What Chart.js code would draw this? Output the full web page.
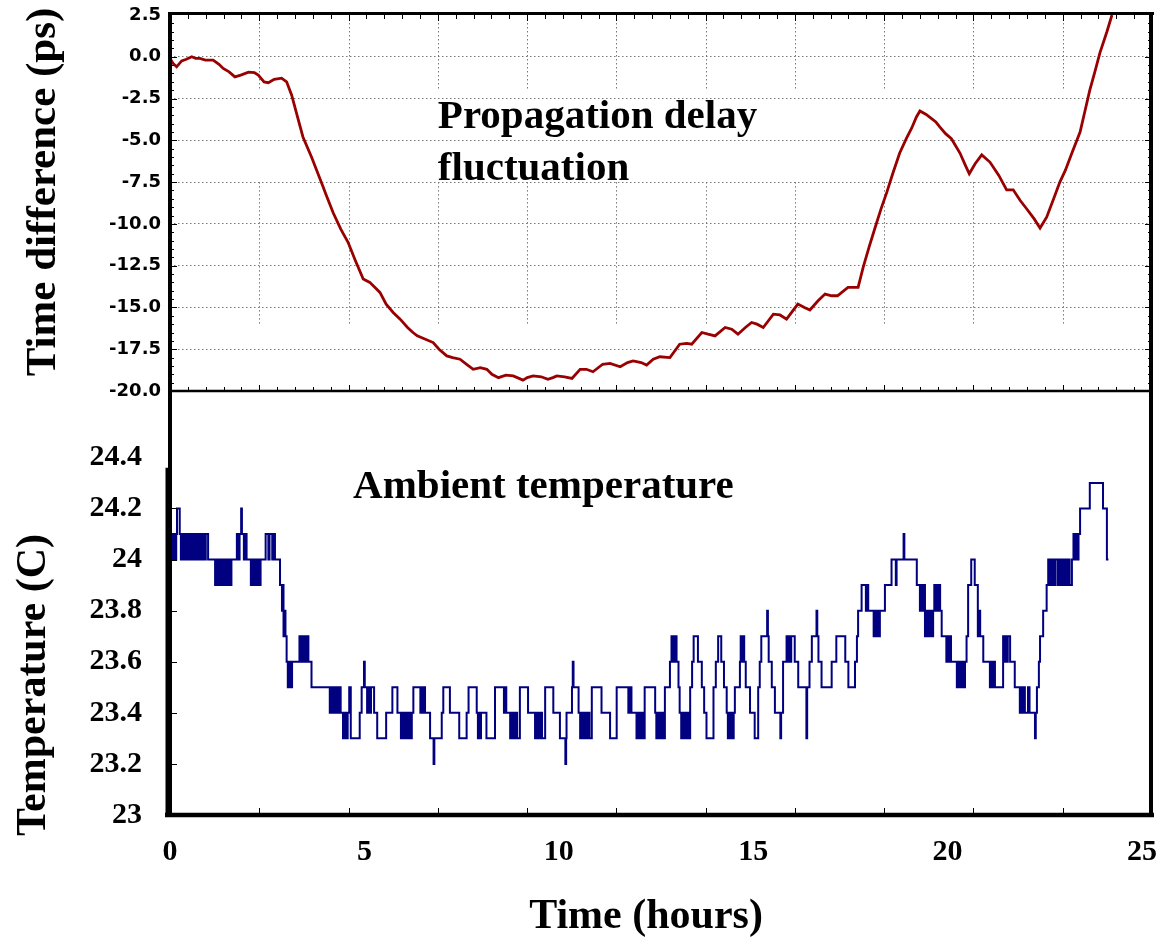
<!DOCTYPE html>
<html>
<head>
<meta charset="utf-8">
<title>Propagation delay fluctuation and ambient temperature</title>
<script src="https://cdn.jsdelivr.net/npm/chart.js@4.4.1/dist/chart.umd.min.js"></script>
<style>
  html, body { margin: 0; padding: 0; background: #fff; }
</style>
</head>
<body>
<canvas id="plot" width="1162" height="947"></canvas>
<script>
// shared time axis (hours); the frame runs a little past the 25 h label
const xTickLabels = [0, 5, 10, 15, 20, 25]
const xFrameEnd = 25.26
const xGridDivisions = 11   // the upper plot keeps its own 11-cell grid

// upper panel: propagation delay, ps
const delayTicks = [2.5, 0, -2.5, -5, -7.5, -10, -12.5, -15, -17.5, -20]
const delayHours = [
    0.00, 0.08, 0.17, 0.30, 0.42, 0.56, 0.66, 0.77, 0.91, 1.11,
    1.26, 1.37, 1.52, 1.67, 1.82, 2.02, 2.17, 2.27, 2.42, 2.53,
    2.68, 2.87, 3.00, 3.13, 3.28, 3.42, 3.64, 3.90, 4.04, 4.20,
    4.39, 4.58, 4.77, 4.97, 5.14, 5.40, 5.56, 5.74, 5.92, 6.11,
    6.25, 6.36, 6.57, 6.77, 6.92, 7.12, 7.27, 7.46, 7.63, 7.80,
    7.98, 8.15, 8.28, 8.45, 8.64, 8.83, 9.08, 9.19, 9.34, 9.55,
    9.72, 9.85, 9.95, 10.15, 10.34, 10.55, 10.71, 10.88, 11.13, 11.32,
    11.58, 11.77, 11.91, 12.12, 12.26, 12.43, 12.60, 12.86, 13.11, 13.29,
    13.42, 13.68, 13.84, 14.02, 14.28, 14.45, 14.61, 14.80, 14.96, 15.10,
    15.26, 15.52, 15.69, 15.86, 16.15, 16.32, 16.46, 16.67, 16.85, 17.02,
    17.17, 17.44, 17.70, 17.83, 17.98, 18.14, 18.29, 18.44, 18.59, 18.77,
    18.94, 19.08, 19.20, 19.29, 19.45, 19.59, 19.70, 19.80, 19.95, 20.10,
    20.32, 20.46, 20.56, 20.71, 20.88, 21.09, 21.32, 21.52, 21.69, 21.87,
    22.02, 22.23, 22.38, 22.55, 22.73, 22.89, 23.03, 23.20, 23.41, 23.54,
    23.66, 23.79, 23.92, 24.10, 24.23
]
const delayPs = [
    -0.1, -0.4, -0.6, -0.25, -0.15, 0.0, -0.1, -0.1, -0.2, -0.2,
    -0.45, -0.7, -0.9, -1.2, -1.1, -0.92, -0.95, -1.1, -1.5, -1.55,
    -1.35, -1.28, -1.5, -2.3, -3.6, -4.8, -6.0, -7.55, -8.4, -9.35,
    -10.3, -11.1, -12.2, -13.3, -13.5, -14.1, -14.8, -15.3, -15.7, -16.2,
    -16.5, -16.7, -16.9, -17.1, -17.5, -17.9, -18.0, -18.1, -18.4, -18.7,
    -18.6, -18.7, -19.0, -19.2, -19.05, -19.1, -19.35, -19.2, -19.1, -19.15,
    -19.3, -19.2, -19.1, -19.15, -19.25, -18.7, -18.7, -18.85, -18.4, -18.35,
    -18.55, -18.3, -18.2, -18.3, -18.45, -18.1, -17.95, -18.0, -17.2, -17.15,
    -17.2, -16.5, -16.6, -16.7, -16.2, -16.3, -16.6, -16.2, -15.9, -16.0,
    -16.2, -15.4, -15.45, -15.7, -14.8, -15.0, -15.15, -14.6, -14.2, -14.3,
    -14.3, -13.8, -13.8, -12.6, -11.4, -10.2, -9.1, -8.1, -7.0, -5.76,
    -4.9, -4.26, -3.6, -3.24, -3.45, -3.7, -3.9, -4.2, -4.6, -4.9,
    -5.76, -6.5, -7.0, -6.4, -5.87, -6.3, -7.1, -7.96, -7.96, -8.6,
    -9.05, -9.7, -10.25, -9.6, -8.5, -7.5, -6.8, -5.76, -4.5, -3.2,
    -2.0, -0.9, 0.23, 1.5, 2.5
]

// lower panel: ambient temperature, C (each reading holds until the next one)
const tempTicks = [23, 23.2, 23.4, 23.6, 23.8, 24, 24.2, 24.4]
const tempHours = [
    0.00, 0.04, 0.07, 0.10, 0.13, 0.16, 0.18, 0.25, 0.28, 0.31, 0.34, 0.37, 0.40, 0.43, 0.46, 0.50,
    0.53, 0.56, 0.59, 0.62, 0.65, 0.68, 0.71, 0.74, 0.77, 0.80, 0.83, 0.86, 0.89, 0.92, 0.98,
    1.16, 1.20, 1.24, 1.28, 1.31, 1.35, 1.38, 1.42, 1.45, 1.50, 1.53, 1.58,
    1.72, 1.76, 1.79, 1.83, 1.85, 1.90, 1.93, 1.97,
    2.08, 2.12, 2.15, 2.19, 2.22, 2.26, 2.29, 2.33,
    2.46, 2.53, 2.56, 2.63, 2.66, 2.70,
    2.83, 2.88, 2.90, 2.92, 2.95, 2.97, 3.00, 3.03, 3.05, 3.07, 3.10, 3.12, 3.14,
    3.33, 3.36, 3.38, 3.41, 3.46, 3.49, 3.52, 3.56, 3.64,
    4.11, 4.15, 4.18, 4.22, 4.25, 4.29, 4.32, 4.36, 4.39,
    4.45, 4.49, 4.53, 4.57, 4.61, 4.65,
    4.88, 4.93, 4.99, 5.01, 5.07, 5.10, 5.14, 5.17, 5.25, 5.33,
    5.56, 5.72, 5.85, 5.94, 5.98, 6.02, 6.06, 6.10, 6.14, 6.18, 6.22, 6.26,
    6.44, 6.47, 6.50, 6.53, 6.56, 6.69, 6.78, 6.80, 6.99, 7.03,
    7.20, 7.44, 7.63, 7.68, 7.89, 7.92, 7.94, 7.97, 8.00, 8.14,
    8.36, 8.59, 8.62, 8.65, 8.75, 8.78, 8.81, 8.84, 8.87, 8.90, 8.93, 9.00,
    9.21, 9.39, 9.42, 9.45, 9.48, 9.51, 9.54, 9.57, 9.65, 9.86,
    10.03, 10.17, 10.19, 10.20, 10.34, 10.36, 10.38, 10.51, 10.55, 10.58,
    10.61, 10.64, 10.67, 10.70, 10.73, 10.76, 10.79, 10.85, 11.10, 11.32,
    11.49, 11.79, 11.84, 11.87, 12.00, 12.03, 12.06, 12.09, 12.12, 12.15, 12.18, 12.21,
    12.48, 12.51, 12.54, 12.57, 12.60, 12.63, 12.66, 12.69, 12.73, 12.86,
    12.90, 12.93, 12.96, 12.99, 13.02, 13.03, 13.08, 13.11, 13.15, 13.18,
    13.21, 13.24, 13.28, 13.31, 13.34, 13.38, 13.43, 13.47, 13.58, 13.68,
    13.74, 13.80, 13.98, 14.04, 14.10, 14.18, 14.25, 14.32, 14.35, 14.38,
    14.41, 14.44, 14.47, 14.50, 14.53,
    14.66, 14.68, 14.71, 14.74, 14.77, 14.81, 14.92, 15.04, 15.13, 15.17,
    15.21, 15.36, 15.38, 15.40, 15.48, 15.56, 15.70, 15.72, 15.77, 15.86,
    15.89, 15.92, 15.95, 15.98, 16.07, 16.16, 16.37, 16.39, 16.45, 16.51,
    16.63, 16.65, 16.68, 16.76,
    17.02, 17.14, 17.37, 17.45, 17.62, 17.67, 17.70, 17.79, 17.90, 17.93,
    17.96, 18.10, 18.13, 18.16, 18.20, 18.23, 18.26, 18.39, 18.56, 18.67,
    18.69, 18.87, 18.89,
    19.21, 19.29, 19.32, 19.35, 19.39, 19.42, 19.45, 19.48, 19.51, 19.54,
    19.57, 19.60, 19.63, 19.66, 19.69, 19.72, 19.75, 19.78, 19.81, 19.85,
    19.97, 20.00, 20.03, 20.06, 20.09, 20.24, 20.27, 20.30, 20.33, 20.36,
    20.39, 20.42, 20.45, 20.49, 20.53, 20.61, 20.70, 20.78, 20.81, 20.84,
    20.92, 21.09, 21.13, 21.16, 21.19, 21.22,
    21.43, 21.46, 21.49, 21.52, 21.55, 21.61, 21.73, 21.86, 21.89, 21.92,
    21.96, 21.99, 22.07, 22.11, 22.25, 22.27, 22.30, 22.35, 22.38, 22.46,
    22.55, 22.59, 22.62, 22.65, 22.68, 22.71, 22.74, 22.77, 22.83, 22.86,
    22.89, 22.92, 22.95, 22.98, 23.01, 23.04, 23.08, 23.11, 23.14, 23.20,
    23.24, 23.28, 23.31, 23.34, 23.37, 23.41, 23.66, 24.00, 24.10, 24.14
]
const tempC = [
    24.0, 24.1, 24.0, 24.1, 24.0, 24.1, 24.2, 24.1, 24.0, 24.1, 24.0, 24.1, 24.0, 24.1, 24.0, 24.1,
    24.0, 24.1, 24.0, 24.1, 24.0, 24.1, 24.0, 24.1, 24.0, 24.1, 24.0, 24.1, 24.0, 24.1, 24.0,
    23.9, 24.0, 23.9, 24.0, 23.9, 24.0, 23.9, 24.0, 23.9, 24.0, 23.9, 24.0,
    24.1, 24.0, 24.1, 24.2, 24.1, 24.0, 24.1, 24.0,
    23.9, 24.0, 23.9, 24.0, 23.9, 24.0, 23.9, 24.0,
    24.1, 24.0, 24.1, 24.0, 24.1, 24.0,
    23.9, 23.8, 23.9, 23.7, 23.8, 23.7, 23.6, 23.5, 23.6, 23.5, 23.6, 23.5, 23.6,
    23.7, 23.6, 23.7, 23.6, 23.7, 23.6, 23.7, 23.6, 23.5,
    23.4, 23.5, 23.4, 23.5, 23.4, 23.5, 23.4, 23.5, 23.4,
    23.3, 23.4, 23.3, 23.4, 23.5, 23.3,
    23.4, 23.5, 23.6, 23.5, 23.4, 23.5, 23.4, 23.5, 23.4, 23.3,
    23.4, 23.5, 23.4, 23.3, 23.4, 23.3, 23.4, 23.3, 23.4, 23.3, 23.4, 23.5,
    23.4, 23.5, 23.4, 23.5, 23.4, 23.3, 23.2, 23.3, 23.4, 23.5,
    23.4, 23.3, 23.4, 23.5, 23.4, 23.3, 23.4, 23.3, 23.4, 23.3,
    23.5, 23.4, 23.5, 23.4, 23.3, 23.4, 23.3, 23.4, 23.3, 23.4, 23.3, 23.5,
    23.4, 23.3, 23.4, 23.3, 23.4, 23.3, 23.4, 23.3, 23.5, 23.4,
    23.3, 23.2, 23.3, 23.4, 23.5, 23.6, 23.5, 23.4, 23.3, 23.4,
    23.3, 23.4, 23.3, 23.4, 23.3, 23.4, 23.3, 23.5, 23.4, 23.3,
    23.5, 23.4, 23.5, 23.4, 23.3, 23.4, 23.3, 23.4, 23.3, 23.4, 23.3, 23.5,
    23.4, 23.3, 23.4, 23.3, 23.4, 23.3, 23.4, 23.3, 23.5, 23.6,
    23.7, 23.6, 23.7, 23.6, 23.7, 23.6, 23.5, 23.4, 23.3, 23.4,
    23.3, 23.4, 23.3, 23.4, 23.3, 23.5, 23.6, 23.7, 23.6, 23.5,
    23.4, 23.3, 23.5, 23.6, 23.7, 23.6, 23.5, 23.4, 23.3, 23.4,
    23.3, 23.4, 23.3, 23.4, 23.5,
    23.6, 23.7, 23.6, 23.7, 23.6, 23.5, 23.4, 23.3, 23.5, 23.6,
    23.7, 23.8, 23.7, 23.6, 23.5, 23.4, 23.3, 23.4, 23.6, 23.7,
    23.6, 23.7, 23.6, 23.7, 23.6, 23.5, 23.3, 23.5, 23.6, 23.7,
    23.8, 23.7, 23.6, 23.5,
    23.6, 23.7, 23.6, 23.5, 23.6, 23.7, 23.8, 23.9, 23.8, 23.9,
    23.8, 23.7, 23.8, 23.7, 23.8, 23.7, 23.8, 23.9, 24.0, 23.9,
    24.0, 24.1, 24.0,
    23.9, 23.8, 23.9, 23.8, 23.9, 23.7, 23.8, 23.7, 23.8, 23.7,
    23.8, 23.7, 23.8, 23.9, 23.8, 23.9, 23.8, 23.9, 23.8, 23.7,
    23.6, 23.7, 23.6, 23.7, 23.6, 23.5, 23.6, 23.5, 23.6, 23.5,
    23.6, 23.5, 23.6, 23.7, 23.9, 24.0, 23.9, 23.7, 23.8, 23.7,
    23.6, 23.5, 23.6, 23.5, 23.6, 23.5,
    23.7, 23.6, 23.7, 23.6, 23.7, 23.6, 23.5, 23.4, 23.5, 23.4,
    23.5, 23.4, 23.5, 23.4, 23.3, 23.4, 23.5, 23.6, 23.7, 23.8,
    23.9, 24.0, 23.9, 24.0, 23.9, 24.0, 23.9, 24.0, 23.9, 24.0,
    23.9, 24.0, 23.9, 24.0, 23.9, 24.0, 23.9, 24.0, 23.9, 24.0,
    24.1, 24.0, 24.1, 24.0, 24.1, 24.2, 24.3, 24.2, 24.0, 24.0
]

const serif = "'Liberation Serif', 'Times New Roman', serif"

function seg(ctx, x1, y1, x2, y2) {
    ctx.beginPath()
    ctx.moveTo(x1, y1)
    ctx.lineTo(x2, y2)
    ctx.stroke()
}

function upText(ctx, text, x, y) {
    ctx.save()
    ctx.translate(x, y)
    ctx.rotate(-Math.PI / 2)
    ctx.fillText(text, 0, 0)
    ctx.restore()
}

// frame, inner ticks, the broken vertical grid of the upper plot and the labels
const panelDecor = {
    id: 'panelDecor',
    beforeDatasetsDraw(chart) {
        const {ctx, scales: {x, y}} = chart
        const cell = (x.max - x.min) / xGridDivisions
        ctx.save()
        ctx.strokeStyle = '#777'
        ctx.lineWidth = 1
        ctx.setLineDash([1.5, 2.5])
        for (let k = 1; k < xGridDivisions; k++) {
            const px = Math.round(x.getPixelForValue(k * cell)) + 0.5
            seg(ctx, px, y.getPixelForValue(2.5), px, y.getPixelForValue(-1.9))
            seg(ctx, px, y.getPixelForValue(-7.5), px, y.getPixelForValue(-16))
        }
        ctx.restore()
    },
    afterDatasetsDraw(chart) {
        const {ctx, chartArea: a, scales: {x, y, y2}} = chart
        const split = y.bottom
        const cell = (x.max - x.min) / xGridDivisions
        ctx.save()
        ctx.strokeStyle = '#000'
        ctx.setLineDash([])

        // tick marks pointing into the plots
        ctx.lineWidth = 1
        for (let k = 1; k < xGridDivisions * 5; k++) {
            const px = Math.round(x.getPixelForValue(k * cell / 5)) + 0.5
            const len = k % 5 === 0 ? 6 : 4
            seg(ctx, px, a.top, px, a.top + len)
            seg(ctx, px, split, px, split - len)
            if (k % 5 === 0) seg(ctx, px, a.bottom, px, a.bottom - 7)
        }
        for (let i = 1; i < 45; i++) {
            const v = 2.5 - i * 0.5
            const py = Math.round(y.getPixelForValue(v)) + 0.5
            const len = i % 5 === 0 ? 7 : 4
            seg(ctx, a.left, py, a.left + len, py)
            seg(ctx, a.right, py, a.right - len, py)
        }
        tempTicks.slice(1, -1).forEach(v => {
            const py = Math.round(y2.getPixelForValue(v)) + 0.5
            seg(ctx, a.left, py, a.left + 7, py)
        })

        // frame
        ctx.lineWidth = 3
        seg(ctx, a.left - 2, a.top - 1.5, a.right + 2, a.top - 1.5)
        ctx.lineWidth = 2.5
        seg(ctx, a.left, split, a.right, split)
        ctx.lineWidth = 4.5
        seg(ctx, a.left - 5, a.bottom, a.right + 2, a.bottom)
        ctx.lineWidth = 4
        seg(ctx, a.left, a.top - 3, a.left, a.bottom + 2)
        seg(ctx, a.right - 1, a.top - 3, a.right - 1, a.bottom + 2)
        ctx.lineWidth = 3
        seg(ctx, a.left - 3, y2.getPixelForValue(24.36), a.left - 3, a.bottom)

        // texts
        ctx.fillStyle = '#000'
        ctx.textBaseline = 'alphabetic'
        ctx.textAlign = 'left'
        ctx.font = 'bold 41px ' + serif
        ctx.fillText('Propagation delay', x.getPixelForValue(6.89), y.getPixelForValue(-4.26))
        ctx.fillText('fluctuation', x.getPixelForValue(6.89), y.getPixelForValue(-7.37))
        ctx.fillText('Ambient temperature', x.getPixelForValue(4.71), y2.getPixelForValue(24.243))

        ctx.textAlign = 'center'
        ctx.font = 'bold 43px ' + serif
        upText(ctx, 'Time difference (ps)', 55, 192)
        ctx.font = 'bold 42px ' + serif
        upText(ctx, 'Temperature (C)', 45, 685)
        ctx.fillText('Time (hours)', 646, 928)
        ctx.restore()
    }
}

function fixedWidth(w) {
    return scale => {
        scale.width = w
        scale.paddingTop = 0
        scale.paddingBottom = 0
    }
}

const chart = new Chart(document.getElementById('plot'), {
    type: 'line',
    data: {
        datasets: [
            {
                label: 'Propagation delay fluctuation',
                data: delayHours.map((h, i) => ({x: h, y: delayPs[i]})),
                yAxisID: 'y',
                borderColor: '#990000',
                borderWidth: 2.8,
                pointRadius: 0,
                tension: 0,
            },
            {
                label: 'Ambient temperature',
                data: tempHours.map((h, i) => ({x: h, y: tempC[i]})),
                yAxisID: 'y2',
                borderColor: '#000080',
                borderWidth: 2,
                pointRadius: 0,
                stepped: true,
            },
        ],
    },
    options: {
        responsive: false,
        animation: false,
        layout: {padding: {top: 15, right: 10, left: 0, bottom: 0}},
        plugins: {legend: {display: false}, tooltip: {enabled: false}},
        scales: {
            x: {
                type: 'linear',
                min: 0,
                max: xFrameEnd,
                grid: {display: false, drawTicks: false},
                border: {display: false},
                afterBuildTicks: scale => { scale.ticks = xTickLabels.map(v => ({value: v})) },
                afterFit: scale => {
                    scale.height = 132
                    scale.paddingLeft = 0
                    scale.paddingRight = 0
                },
                ticks: {
                    autoSkip: false,
                    maxRotation: 0,
                    padding: 19,
                    color: '#000',
                    font: {family: serif, size: 30, weight: 'bold'},
                },
            },
            y: {
                type: 'linear',
                position: 'left',
                stack: 'panels',
                stackWeight: 376,
                weight: 1,
                min: -20,
                max: 2.5,
                grid: {
                    drawTicks: false,
                    lineWidth: 1,
                    color: c => (c.tick && (c.tick.value === 2.5 || c.tick.value === -20)) ? 'rgba(0,0,0,0)' : '#777',
                },
                border: {display: false, dash: [1.5, 2.5]},
                afterBuildTicks: scale => { scale.ticks = delayTicks.map(v => ({value: v})) },
                afterFit: fixedWidth(170),
                ticks: {
                    autoSkip: false,
                    padding: 9,
                    color: '#000',
                    font: {family: "'DejaVu Sans', sans-serif", size: 18, weight: 'bold'},
                    callback: v => Number(v).toFixed(1),
                },
            },
            y2: {
                type: 'linear',
                position: 'left',
                stack: 'panels',
                stackWeight: 424,
                weight: 0,
                min: 23,
                max: 24.66,
                grid: {display: false, drawTicks: false},
                border: {display: false},
                afterBuildTicks: scale => { scale.ticks = tempTicks.map(v => ({value: v})) },
                afterFit: fixedWidth(170),
                ticks: {
                    autoSkip: false,
                    padding: 28,
                    color: '#000',
                    font: {family: serif, size: 30, weight: 'bold'},
                    callback: v => String(Number(Number(v).toFixed(1))),
                },
            },
        },
    },
    plugins: [panelDecor],
})
</script>
</body>
</html>
